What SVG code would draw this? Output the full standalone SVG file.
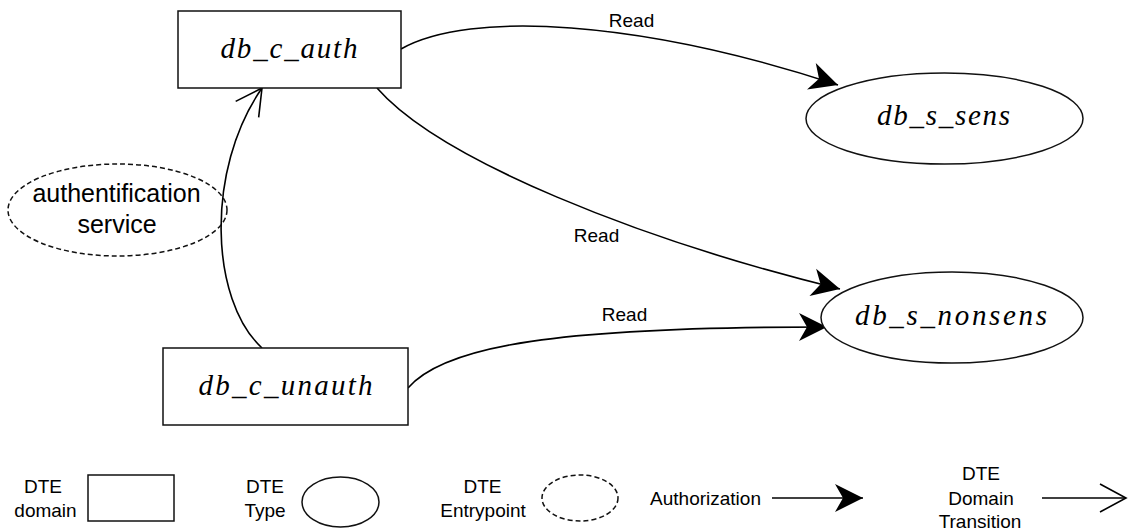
<svg xmlns="http://www.w3.org/2000/svg" width="1128" height="532" viewBox="0 0 1128 532">
<style>
.box{fill:#fff;stroke:#111;stroke-width:1.5}
.ell{fill:#fff;stroke:#111;stroke-width:1.5}
.dash{fill:#fff;stroke:#111;stroke-width:1.5;stroke-dasharray:5 3}
.edge{fill:none;stroke:#000;stroke-width:1.6}
.math{font-family:"Liberation Serif","DejaVu Serif",serif;font-style:italic;font-size:29px;fill:#000;text-anchor:middle}
.lbl{font-family:"Liberation Sans",Arial,sans-serif;font-size:19px;fill:#000;text-anchor:middle}
.big{font-family:"Liberation Sans",Arial,sans-serif;font-size:25px;fill:#000;text-anchor:middle}
.bg{fill:#fff;stroke:none}
</style>
<defs>
<marker id="filled" markerUnits="userSpaceOnUse" markerWidth="40" markerHeight="40" refX="0" refY="0" orient="auto" overflow="visible">
<path d="M0,0 L-28,-14 L-20,0 L-28,14 Z" fill="#000" stroke="none"/>
</marker>
<marker id="open" markerUnits="userSpaceOnUse" markerWidth="40" markerHeight="40" refX="0" refY="0" orient="auto" overflow="visible">
<path d="M-26,-14 L0,0 L-26,14" fill="none" stroke="#000" stroke-width="1.6"/>
</marker>
</defs>

<g id="connectors">
<path class="edge" d="M262,348 C210,300 205,170 262,88" marker-end="url(#open)"/>
<path class="edge" d="M401,49 C470,10 640,20 838,85" marker-end="url(#filled)"/>
<path class="edge" d="M377,88 C440,160 640,240 840,289" marker-end="url(#filled)"/>
<path class="edge" d="M408,388 C445,345 560,327 827,327" marker-end="url(#filled)"/>
<g id="label-read-1"><rect class="bg" x="607" y="12" width="50" height="19"/><text class="lbl" x="631.5" y="27">Read</text></g>
<g id="label-read-2"><rect class="bg" x="571" y="224" width="50" height="21"/><text class="lbl" x="596.5" y="242">Read</text></g>
<g id="label-read-3"><rect class="bg" x="600" y="304" width="50" height="21"/><text class="lbl" x="624.5" y="321">Read</text></g>
</g>

<g id="auth-service">
<ellipse class="dash" cx="117.5" cy="210" rx="109.5" ry="46" fill-opacity="0"/>
<text class="big" x="116.5" y="202">authentification</text>
<text class="big" x="117" y="233">service</text>
</g>

<g id="db_c_auth">
<rect class="box" x="178" y="11" width="223" height="77"/>
<text class="math" x="289" y="58" textLength="137" lengthAdjust="spacing">db_c_auth</text>
</g>

<g id="db_c_unauth">
<rect class="box" x="163" y="348" width="245" height="77"/>
<text class="math" x="285.5" y="395" textLength="174" lengthAdjust="spacing">db_c_unauth</text>
</g>

<g id="db_s_sens">
<ellipse class="ell" cx="944.5" cy="118.5" rx="138.5" ry="45.5"/>
<text class="math" x="943.5" y="125" textLength="133" lengthAdjust="spacing">db_s_sens</text>
</g>

<g id="db_s_nonsens">
<ellipse class="ell" cx="952" cy="317.5" rx="131" ry="45.5"/>
<text class="math" x="951" y="325" textLength="192" lengthAdjust="spacing">db_s_nonsens</text>
</g>

<g id="legend">
<g id="legend-domain">
<text class="lbl" x="43" y="493">DTE</text>
<text class="lbl" x="45.5" y="517">domain</text>
<rect class="box" x="88" y="475" width="86" height="46"/>
</g>
<g id="legend-type">
<text class="lbl" x="265" y="493">DTE</text>
<text class="lbl" x="265" y="517">Type</text>
<ellipse class="ell" cx="340.5" cy="502" rx="38.5" ry="25"/>
</g>
<g id="legend-entrypoint">
<text class="lbl" x="482.5" y="493">DTE</text>
<text class="lbl" x="483" y="517">Entrypoint</text>
<ellipse class="dash" cx="580" cy="498" rx="38" ry="23"/>
</g>
<g id="legend-authorization">
<text class="lbl" x="705.5" y="505">Authorization</text>
<path class="edge" d="M772,498 L863,498" marker-end="url(#filled)"/>
</g>
<g id="legend-transition">
<text class="lbl" x="981" y="480">DTE</text>
<text class="lbl" x="981" y="505">Domain</text>
<text class="lbl" x="980" y="528">Transition</text>
<path class="edge" d="M1042,498 L1126,498" marker-end="url(#open)"/>
</g>
</g>
</svg>
